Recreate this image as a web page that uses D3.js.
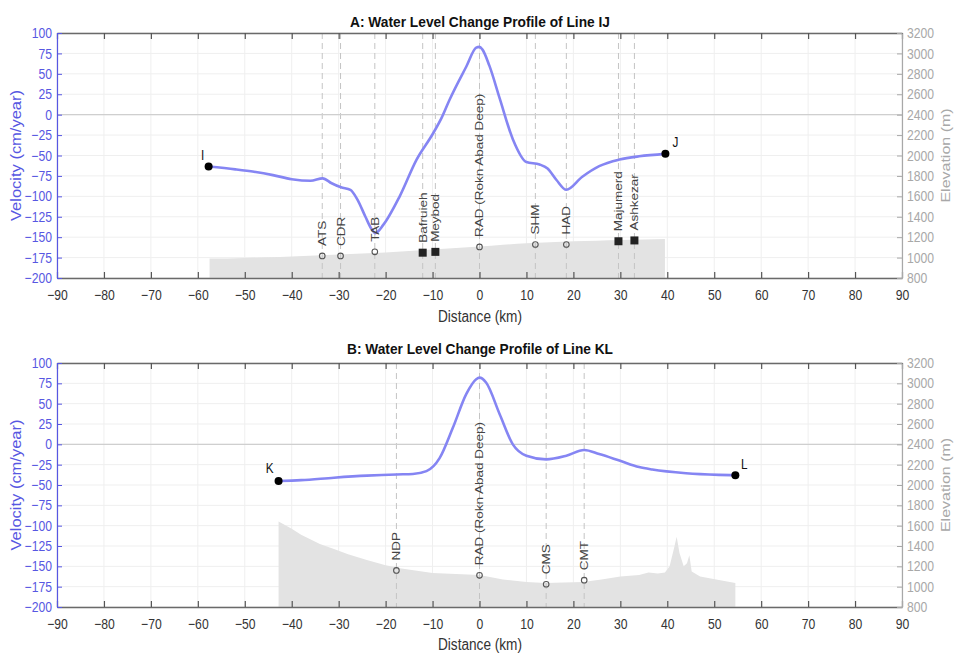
<!DOCTYPE html>
<html>
<head>
<meta charset="utf-8">
<script src="https://cdn.jsdelivr.net/npm/d3@7"></script>
<style>
  body { margin: 0; background: #fff; }
  svg { font-family: "Liberation Sans", Arial, sans-serif; }
</style>
</head>
<body>
<svg id="chart" width="955" height="653"></svg>
<script>
// ---- data ----
var xTicks = [-90, -80, -70, -60, -50, -40, -30, -20, -10, 0, 10, 20, 30, 40, 50, 60, 70, 80, 90];
var velTicks = [-200, -175, -150, -125, -100, -75, -50, -25, 0, 25, 50, 75, 100];
var elevTicks = [800, 1000, 1200, 1400, 1600, 1800, 2000, 2200, 2400, 2600, 2800, 3000, 3200];

// Line IJ : velocity profile (km, cm/year)
var distIJ = [-57.7, -52, -48, -44, -40, -36, -33.4, -31.5, -29.5, -27.5, -26, -24.3, -23, -22.2, -20.5, -17, -13.4, -10, -8, -6.4, -2.8, -0.7, 0, 0.6, 2.1, 4.3, 7.1, 10, 12.8, 14.5, 16.4, 18.5, 21.9, 25.5, 29.8, 34, 39.6];
var velIJ = [-63.5, -67, -70, -74, -79, -81, -78, -84, -89, -92, -104, -125, -140, -145, -135, -100, -55, -24, -3, 18, 59, 82, 83, 80, 60, 20, -30, -58, -61, -66, -80, -92, -76, -63, -55, -51, -48];
// Line IJ : ground elevation (km, m)
var elevDistIJ = [-57.5, -50, -45, -40, -35, -30, -25, -20, -15, -10, -5, 0, 5, 10, 15, 20, 25, 30, 35, 39.5];
var elevIJ = [990, 997, 1003, 1010, 1020, 1030, 1040, 1050, 1065, 1080, 1095, 1108, 1125, 1140, 1150, 1160, 1165, 1172, 1177, 1182];
// Line IJ : stations
var stationNamesIJ = ["ATS", "CDR", "TAB", "Bafruieh", "Meybod", "RAD (Rokn Abad Deep)", "SHM", "HAD", "Majumerd", "Ashkezar"];
var stationDistIJ = [-33.5, -29.6, -22.3, -12.1, -9.4, 0, 11.9, 18.5, 29.6, 33];
var stationVelIJ = [-173, -173, -168, -169, -168, -162, -159, -159, -155, -154];
var stationShapeIJ = ["circle", "circle", "circle", "square", "square", "circle", "circle", "circle", "square", "square"];
var endNamesIJ = ["I", "J"];

// Line KL : velocity profile
var distKL = [-42.8, -38, -31, -24, -17.7, -14.2, -11.3, -8.5, -5.7, -2.8, -0.7, 0, 1.4, 4.3, 7.1, 10, 14.2, 18.5, 22.3, 25.5, 29.8, 34, 36.8, 44, 51, 54.5];
var velKL = [-45, -44, -41, -38.5, -37, -36.5, -33, -17, 20, 62, 80, 82, 76, 37, 0, -14, -18.5, -14, -7, -12, -20, -28, -31, -35.5, -37.5, -38];
// Line KL : ground elevation
var elevDistKL = [-42.8, -40, -38, -34, -31, -28, -24, -20, -17, -10, 0, 5, 10, 14, 18, 22, 26, 30, 34, 36, 38, 39.5, 40.5, 41.5, 42, 42.6, 43.5, 44.2, 44.7, 45.2, 47, 51, 54.5];
var elevKL = [1640, 1570, 1510, 1420, 1370, 1320, 1262, 1210, 1180, 1135, 1115, 1070, 1045, 1035, 1040, 1046, 1070, 1100, 1115, 1140, 1130, 1140, 1200, 1390, 1490, 1330, 1200, 1230, 1310, 1150, 1100, 1066, 1036];
// Line KL : stations
var stationNamesKL = ["NDP", "RAD (Rokn Abad Deep)", "CMS", "CMT"];
var stationDistKL = [-17.7, 0, 14.2, 22.3];
var stationVelKL = [-155, -161, -172, -167];
var stationShapeKL = ["circle", "circle", "circle", "circle"];
var endNamesKL = ["K", "L"];

// ---- styling ----
var velColor = "#8585f3";
var leftColor = "#5757e2";
var rightColor = "#a8a8a8";
var sx = 0.84; // image is slightly squeezed horizontally

var svg = d3.select("#chart");
var x = d3.scaleLinear().domain([-90, 90]).range([57, 902]);

function drawPanel(p) {
  var yV = d3.scaleLinear().domain([-200, 100]).range([p.bottom, p.top]);
  var yE = d3.scaleLinear().domain([800, 3200]).range([p.bottom, p.top]);
  var g = svg.append("g");

  // grid
  g.selectAll(".vg").data(xTicks).enter().append("line")
    .attr("x1", function(d){ return x(d); }).attr("x2", function(d){ return x(d); })
    .attr("y1", p.top).attr("y2", p.bottom)
    .attr("stroke", "#efefef").attr("stroke-width", 1);
  g.selectAll(".hg").data(velTicks).enter().append("line")
    .attr("x1", x(-90)).attr("x2", x(90))
    .attr("y1", function(d){ return yV(d); }).attr("y2", function(d){ return yV(d); })
    .attr("stroke", "#efefef").attr("stroke-width", 1);

  // elevation profile
  var pts = p.elevDist.map(function(d, i){ return [d, p.elev[i]]; });
  g.append("path").datum(pts)
    .attr("d", d3.area().x(function(d){ return x(d[0]); })
      .y0(p.bottom).y1(function(d){ return yE(d[1]); })
      .curve(p.elevCurve))
    .attr("fill", "#e3e3e3");

  // dashed station lines
  g.selectAll(".sl").data(p.stDist).enter().append("line")
    .attr("x1", function(d){ return x(d); }).attr("x2", function(d){ return x(d); })
    .attr("y1", p.top).attr("y2", p.bottom)
    .attr("stroke", "#c4c4c4").attr("stroke-width", 1).attr("stroke-dasharray", "6,4");

  // zero line
  g.append("line").attr("x1", x(-90)).attr("x2", x(90))
    .attr("y1", yV(0)).attr("y2", yV(0))
    .attr("stroke", "#cfcfcf").attr("stroke-width", 1.2);

  // velocity profile
  var vp = p.dist.map(function(d, i){ return [d, p.vel[i]]; });
  g.append("path").datum(vp)
    .attr("d", d3.line().x(function(d){ return x(d[0]); }).y(function(d){ return yV(d[1]); }).curve(d3.curveMonotoneX))
    .attr("fill", "none").attr("stroke", velColor).attr("stroke-width", 2.6);

  // end points
  var ends = [vp[0], vp[vp.length - 1]];
  g.selectAll(".ep").data(ends).enter().append("circle")
    .attr("cx", function(d){ return x(d[0]); }).attr("cy", function(d){ return yV(d[1]); })
    .attr("r", 4).attr("fill", "#000");
  g.selectAll(".el").data(ends).enter().append("text")
    .attr("transform", function(d, i){
      return "translate(" + (x(d[0]) + p.endDx[i]) + "," + (yV(d[1]) + p.endDy[i]) + ") scale(" + sx + ",1)";
    })
    .attr("text-anchor", "middle").attr("font-size", 14).attr("fill", "#111")
    .text(function(d, i){ return p.endNames[i]; });

  // station markers
  p.stDist.forEach(function(d, i) {
    var cx = x(d), cy = yV(p.stVel[i]);
    if (p.stShape[i] === "square") {
      g.append("rect").attr("x", cx - 4).attr("y", cy - 4).attr("width", 8).attr("height", 8).attr("fill", "#222");
    } else {
      g.append("circle").attr("cx", cx).attr("cy", cy).attr("r", 2.8)
        .attr("fill", "none").attr("stroke", "#555").attr("stroke-width", 1.1);
    }
    g.append("text")
      .attr("transform", "translate(" + cx + "," + (cy - 10) + ") rotate(-90) scale(1," + sx + ")")
      .attr("dy", "0.35em").attr("font-size", 13.5).attr("fill", "#444")
      .text(p.stNames[i]);
  });

  // axes
  var bottomAxis = g.append("g").attr("transform", "translate(0," + p.bottom + ")")
    .call(d3.axisBottom(x).tickValues(xTicks).tickSize(-6).tickSizeOuter(0).tickPadding(12));
  var topAxis = g.append("g").attr("transform", "translate(0," + p.top + ")")
    .call(d3.axisTop(x).tickValues(xTicks).tickSize(-6).tickSizeOuter(0).tickFormat(""));
  [bottomAxis, topAxis].forEach(function(a) {
    a.select(".domain").attr("stroke", "#6a6a6a").attr("stroke-width", 1.4);
    a.selectAll(".tick line").attr("stroke", "#555").attr("stroke-width", 1.2);
    a.selectAll(".tick text").attr("fill", "#333").attr("font-size", 14.5).attr("font-family", null)
      .attr("transform", "scale(" + sx + ",1)");
  });

  var leftAxis = g.append("g").attr("transform", "translate(" + x(-90) + ",0)")
    .call(d3.axisLeft(yV).tickValues(velTicks).tickSize(-5).tickSizeOuter(0).tickPadding(6));
  leftAxis.select(".domain").attr("stroke", leftColor).attr("stroke-width", 1.2);
  leftAxis.selectAll(".tick line").attr("stroke", leftColor);
  leftAxis.selectAll(".tick text").attr("fill", leftColor).attr("font-size", 14.5).attr("font-family", null)
    .attr("transform", "scale(" + sx + ",1)");

  var rightAxis = g.append("g").attr("transform", "translate(" + x(90) + ",0)")
    .call(d3.axisRight(yE).tickValues(elevTicks).tickFormat(d3.format("d")).tickSize(-5).tickSizeOuter(0).tickPadding(6));
  rightAxis.select(".domain").attr("stroke", rightColor).attr("stroke-width", 1.2);
  rightAxis.selectAll(".tick line").attr("stroke", rightColor);
  rightAxis.selectAll(".tick text").attr("fill", rightColor).attr("font-size", 14.5).attr("font-family", null)
    .attr("transform", "scale(" + sx + ",1)");

  // titles and labels
  g.append("text").attr("x", 480).attr("y", p.titleY).attr("text-anchor", "middle")
    .attr("font-size", 14.5).attr("font-weight", "bold").attr("fill", "#111")
    .attr("textLength", p.titleLen).attr("lengthAdjust", "spacingAndGlyphs")
    .text(p.title);
  g.append("text").attr("x", 480).attr("y", p.xlabelY).attr("text-anchor", "middle")
    .attr("font-size", 16).attr("fill", "#333")
    .attr("textLength", 84).attr("lengthAdjust", "spacingAndGlyphs")
    .text("Distance (km)");
  var mid = (p.top + p.bottom) / 2;
  g.append("text").attr("transform", "translate(16," + mid + ") rotate(-90) scale(1," + sx + ")")
    .attr("text-anchor", "middle").attr("dy", "0.35em").attr("font-size", 16.5).attr("fill", leftColor)
    .text("Velocity (cm/year)");
  g.append("text").attr("transform", "translate(945," + mid + ") rotate(-90) scale(1," + sx + ")")
    .attr("text-anchor", "middle").attr("dy", "0.35em").attr("font-size", 16).attr("fill", rightColor)
    .text("Elevation (m)");
}

drawPanel({
  top: 33, bottom: 278, titleY: 27, xlabelY: 322, titleLen: 260,
  title: "A: Water Level Change Profile of Line IJ",
  dist: distIJ, vel: velIJ, elevDist: elevDistIJ, elev: elevIJ, elevCurve: d3.curveMonotoneX,
  stNames: stationNamesIJ, stDist: stationDistIJ, stVel: stationVelIJ, stShape: stationShapeIJ,
  endNames: endNamesIJ, endDx: [-6, 10], endDy: [-7, -7]
});

drawPanel({
  top: 363, bottom: 607, titleY: 354, xlabelY: 650, titleLen: 266,
  title: "B: Water Level Change Profile of Line KL",
  dist: distKL, vel: velKL, elevDist: elevDistKL, elev: elevKL, elevCurve: d3.curveLinear,
  stNames: stationNamesKL, stDist: stationDistKL, stVel: stationVelKL, stShape: stationShapeKL,
  endNames: endNamesKL, endDx: [-9, 9], endDy: [-8, -6]
});
</script>
</body>
</html>
